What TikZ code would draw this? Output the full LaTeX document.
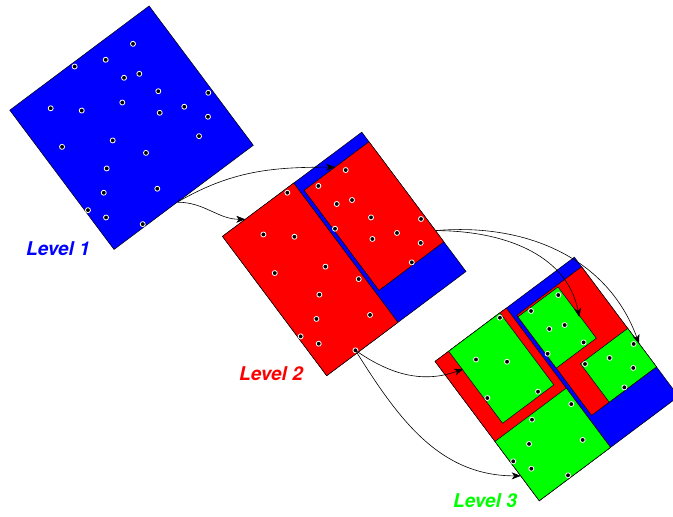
\documentclass[tikz,border=0pt]{standalone}
\usepackage{fontspec}
\newfontfamily\levelfont{TeX Gyre Heros}
\usetikzlibrary{arrows.meta}

% the same point set in every level (local coordinates of one square)
\newcommand{\pointset}{%
  \foreach \px/\py in {138.4/153.3, 107.0/156.9, 78.1/170.1, 110.9/131.5,
      125.5/125.5, 130.3/100.2, 169.4/69.0, 33.9/151.0, 57.4/130.6,
      94.7/112.7, 118.5/82.1, 141.8/72.2, 154.8/50.0, 136.0/39.8,
      19.9/113.3, 64.3/88.1, 83.5/58.2, 42.7/69.3, 25.8/51.6,
      71.1/22.7, 2.7/47.1, 12.8/30.4, 38.2/3.1}
    \filldraw[pt] (\px,\py) circle (2.5);
}

\begin{document}
\begin{tikzpicture}[x=1pt,y=1pt,
    cell/.style={draw=black,line width=0.5pt},
    pt/.style={fill=black,draw=white,line width=0.8pt},
    link/.style={line width=0.6pt,-{Stealth[length=9pt,width=7pt,inset=2.5pt]}},
    lvl/.style={font=\levelfont\fontsize{19}{19}\selectfont\bfseries\itshape}]
  \useasboundingbox (0,0) rectangle (673,517);
  \clip (0,0) rectangle (673,517);

  % Level 1
  \begin{scope}[shift={(114,267.5)},rotate=36.8]
    \filldraw[cell,fill=blue] (0,0) rectangle (174,174);
    \pointset
    \coordinate (s1) at (79,0);
  \end{scope}
  \node[lvl,text=blue] (lab1) at (58,268) {Level 1};

  % Level 2
  \begin{scope}[shift={(326.7,141.3)},rotate=36.8]
    \filldraw[cell,fill=blue] (0,0) rectangle (174,174);
    \filldraw[cell,fill=red] (0,0) rectangle (89,174);
    \filldraw[cell,fill=red] (93,37) rectangle (174,162);
    \pointset
    \coordinate (t1a) at (28.5,174);
    \coordinate (t1b) at (131.6,162);
    \coordinate (s2) at (174,51);
    \coordinate (s3) at (38.2,3.1);
  \end{scope}
  \node[lvl,text=red] (lab2) at (271,143.3) {Level 2};

  % Level 3
  \begin{scope}[shift={(539.3,16.3)},rotate=36.8]
    \filldraw[cell,fill=blue] (0,0) rectangle (174,174);
    \filldraw[cell,fill=red] (0,0) rectangle (89,174);
    \filldraw[cell,fill=green] (0,0) rectangle (89,74);
    \filldraw[cell,fill=green] (17,84) rectangle (81,174);
    \filldraw[cell,fill=red] (93,37) rectangle (174,162);
    \filldraw[cell,fill=green] (93,96) rectangle (143,160);
    \filldraw[cell,fill=green] (115,37) rectangle (174,85);
    \pointset
    \coordinate (t2a) at (142,123);
    \coordinate (t2b) at (174,66);
    \coordinate (t3a) at (18,151);
    \coordinate (t3b) at (0,31);
  \end{scope}
  \node[lvl,text=green] (lab3) at (485,16.5) {Level 3};

  \draw[link] (s1) to[out=0,in=180] (t1a);
  \draw[link] (s1) to[out=30,in=180] (t1b);
  \draw[link] (s2) to[out=0,in=101] (t2a);
  \draw[link] (s2) to[out=5,in=110] (t2b);
  \draw[link] (s3) to[out=-35,in=200] (t3a);
  \draw[link] (s3) to[out=-58,in=180] (t3b);
\end{tikzpicture}
\end{document}
